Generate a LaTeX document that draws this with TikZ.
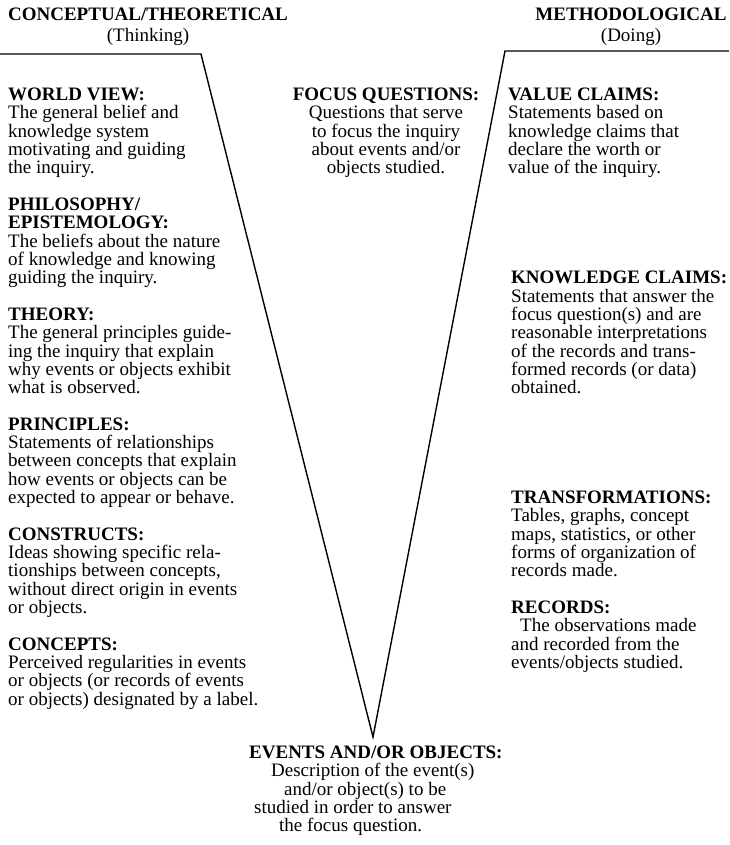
\documentclass[tikz,border=0pt]{standalone}
\usepackage{fontspec}
\setmainfont{Liberation Serif}

\begin{document}
\begin{tikzpicture}[
    x=1pt,
    y=-1pt,
    vee/.style={
      line width=1.4pt,
      line join=miter,
    },
    headlabel/.style={
      anchor=north,
      inner sep=0,
      align=center,
      font=\fontsize{19}{18.33}\selectfont,
    },
    blocktext/.style={
      anchor=north west,
      inner sep=0,
      align=left,
      font=\fontsize{19}{18.33}\selectfont,
    },
    centertext/.style={
      blocktext,
      anchor=north,
      align=center,
    },
  ]
    \useasboundingbox (0,0) rectangle (729,845);

    \newcommand\vblock[4]{%
      \node[blocktext] (#1) at (#2, {87.6+#3*18.33}) {#4};
    }

    % the vee
    \coordinate (leftend) at (0,54);
    \coordinate (leftcorner) at (201,54);
    \coordinate (tip) at (373,737);
    \coordinate (rightcorner) at (505,51);
    \coordinate (rightend) at (729,51);
    \draw[vee] (leftend) -- (leftcorner) -- (tip) -- (rightcorner) -- (rightend);

    \node[headlabel] (thinking) at (148, 7.6)
      {\textbf{CONCEPTUAL/THEORETICAL}\\[2.7pt](Thinking)};
    \node[headlabel] (doing) at (631, 7.6)
      {\textbf{METHODOLOGICAL}\\[2.7pt](Doing)};

    % conceptual side
    \vblock{worldview}{8}{0}{\textbf{WORLD VIEW:}\\The general belief and\\
      knowledge system\\motivating and guiding\\the inquiry.}
    \vblock{philosophy}{8}{6}{\textbf{PHILOSOPHY/}\\\textbf{EPISTEMOLOGY:}\\
      The beliefs about the nature\\of knowledge and knowing\\guiding the inquiry.}
    \vblock{theory}{8}{12}{\textbf{THEORY:}\\The general principles guide-\\
      ing the inquiry that explain\\why events or objects exhibit\\what is observed.}
    \vblock{principles}{8}{18}{\textbf{PRINCIPLES:}\\Statements of relationships\\
      between concepts that explain\\how events or objects can be\\
      expected to appear or behave.}
    \vblock{constructs}{8}{24}{\textbf{CONSTRUCTS:}\\Ideas showing specific rela-\\
      tionships between concepts,\\without direct origin in events\\or objects.}
    \vblock{concepts}{8}{30}{\textbf{CONCEPTS:}\\Perceived regularities in events\\
      or objects (or records of events\\or objects) designated by a label.}

    % methodological side
    \vblock{valueclaims}{508}{0}{\textbf{VALUE CLAIMS:}\\Statements based on\\
      knowledge claims that\\declare the worth or\\value of the inquiry.}
    \vblock{knowledgeclaims}{511}{10}{\textbf{KNOWLEDGE CLAIMS:}\\
      Statements that answer the\\focus question(s) and are\\
      reasonable interpretations\\of the records and trans-\\
      formed records (or data)\\obtained.}
    \vblock{transformations}{511}{22}{\textbf{TRANSFORMATIONS:}\\
      Tables, graphs, concept\\maps, statistics, or other\\
      forms of organization of\\records made.}
    \vblock{records}{511}{28}{\textbf{RECORDS:}\\
      \hspace*{9pt}The observations made\\and recorded from the\\
      events/objects studied.}

    \node[centertext] (focus) at (386, 87.6)
      {\textbf{FOCUS QUESTIONS:}\\Questions that serve\\to focus the inquiry\\
      about events and/or\\objects studied.};

    \node[blocktext] (events) at (249, 745.6)
      {\textbf{EVENTS AND/OR OBJECTS:}\\
      \hspace*{22pt}Description of the event(s)\\
      \hspace*{35pt}and/or object(s) to be\\
      \hspace*{5pt}studied in order to answer\\
      \hspace*{30pt}the focus question.};
  \end{tikzpicture}
\end{document}
